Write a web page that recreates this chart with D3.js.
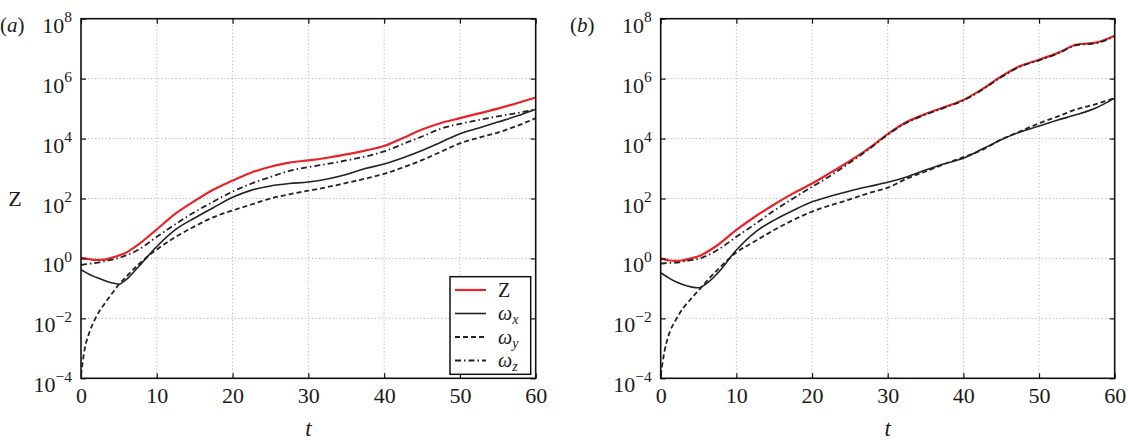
<!DOCTYPE html>
<html>
<head>
<meta charset="utf-8">
<script src="https://d3js.org/d3.v7.min.js"></script>
<style>
  body { margin: 0; background: #fff; }
</style>
</head>
<body>
<script>
let width = 1128, height = 441;
let serif = '"Liberation Serif", "Times New Roman", serif';

// time samples shared by every curve
let tVals = [0, 0.5, 1, 2, 3, 4, 5, 6, 7.5, 10, 12.5, 15, 17.5, 20, 22.5, 25, 27.5, 30,
             32.5, 35, 37.5, 40, 42.5, 45, 47.5, 50, 52.5, 55, 57.5, 60];

// panel (a): log10 of each quantity
let zA  = [0.02, 0.0, -0.02, -0.05, -0.04, 0.02, 0.1, 0.2, 0.45, 0.97, 1.5, 1.92, 2.3, 2.6, 2.87, 3.06, 3.2, 3.27,
           3.36, 3.47, 3.6, 3.75, 4.02, 4.3, 4.52, 4.68, 4.84, 5.0, 5.18, 5.37];
let wxA = [-0.38, -0.45, -0.52, -0.63, -0.73, -0.81, -0.86, -0.7, -0.3, 0.4, 0.97, 1.35, 1.7, 2.04, 2.28, 2.42, 2.5, 2.55,
           2.65, 2.8, 3.0, 3.15, 3.36, 3.6, 3.88, 4.16, 4.35, 4.55, 4.75, 4.98];
let wyA = [-3.9, -3.0, -2.55, -1.95, -1.55, -1.2, -0.87, -0.6, -0.22, 0.3, 0.72, 1.07, 1.38, 1.6, 1.8, 2.0, 2.14, 2.26,
           2.38, 2.52, 2.66, 2.82, 3.04, 3.28, 3.56, 3.84, 4.03, 4.2, 4.42, 4.68];
let wzA = [-0.22, -0.2, -0.18, -0.15, -0.1, -0.05, 0.02, 0.1, 0.28, 0.72, 1.15, 1.55, 1.9, 2.23, 2.5, 2.72, 2.92, 3.05,
           3.15, 3.27, 3.4, 3.57, 3.82, 4.07, 4.33, 4.49, 4.62, 4.74, 4.85, 4.97];

// panel (b)
let zB  = [0.0, -0.03, -0.06, -0.08, -0.06, 0.0, 0.07, 0.2, 0.44, 0.95, 1.4, 1.8, 2.17, 2.5, 2.87, 3.25, 3.67, 4.15,
           4.55, 4.82, 5.05, 5.29, 5.65, 6.07, 6.42, 6.63, 6.86, 7.14, 7.2, 7.43];
let wxB = [-0.48, -0.56, -0.64, -0.78, -0.88, -0.95, -0.98, -0.85, -0.5, 0.28, 0.88, 1.28, 1.6, 1.89, 2.08, 2.25, 2.4, 2.54,
           2.72, 2.95, 3.16, 3.34, 3.65, 3.96, 4.22, 4.42, 4.62, 4.8, 5.02, 5.35];
let wyB = [-3.9, -3.1, -2.6, -2.05, -1.65, -1.35, -1.07, -0.78, -0.38, 0.2, 0.58, 0.95, 1.28, 1.56, 1.78, 1.97, 2.18, 2.36,
           2.66, 2.9, 3.15, 3.38, 3.62, 3.97, 4.24, 4.51, 4.74, 4.98, 5.15, 5.35];
let wzB = [-0.17, -0.16, -0.15, -0.14, -0.1, -0.06, -0.01, 0.08, 0.28, 0.72, 1.15, 1.6, 2.0, 2.39, 2.77, 3.2, 3.64, 4.13,
           4.53, 4.8, 5.03, 5.27, 5.63, 6.05, 6.4, 6.61, 6.84, 7.12, 7.18, 7.41];

let xTicks = [0, 10, 20, 30, 40, 50, 60];
let yExps = [-4, -2, 0, 2, 4, 6, 8];
let seriesNames = ["Z", "x", "y", "z"];

let styles = {
    "Z": {color: "#e8232a", width: 2.2, dash: null},
    "x": {color: "#222", width: 1.6, dash: null},
    "y": {color: "#222", width: 1.8, dash: "5,3"},
    "z": {color: "#222", width: 1.8, dash: "6,3,1.5,3"}
};

let svg = d3.select("body").append("svg")
    .attr("width", width)
    .attr("height", height);

function drawPanel(left, right, label, labelX, data, withLegend, id) {
    let top = 18.7, bottom = 378.3;

    let x = d3.scaleLinear().domain([0, 60]).range([left, right]);
    let y = d3.scaleLog().domain([1e-4, 1e8]).range([bottom, top]);

    let g = svg.append("g");

    g.append("clipPath").attr("id", "clip" + id)
        .append("rect")
        .attr("x", left).attr("y", top)
        .attr("width", right - left).attr("height", bottom - top);

    // dotted grid
    g.selectAll(".vgrid")
        .data(xTicks.slice(1, -1))
        .join("line")
            .attr("x1", d => x(d)).attr("x2", d => x(d))
            .attr("y1", top).attr("y2", bottom)
            .style("stroke", "#aaa").style("stroke-width", 1)
            .style("stroke-dasharray", "1,2.5");
    g.selectAll(".hgrid")
        .data(yExps.slice(1, -1))
        .join("line")
            .attr("x1", left).attr("x2", right)
            .attr("y1", d => y(Math.pow(10, d))).attr("y2", d => y(Math.pow(10, d)))
            .style("stroke", "#aaa").style("stroke-width", 1)
            .style("stroke-dasharray", "1,2.5");

    // curves
    let line = d3.line()
        .x((d, i) => x(tVals[i]))
        .y(d => y(Math.pow(10, d)))
        .curve(d3.curveMonotoneX);

    let curves = g.append("g").attr("clip-path", "url(#clip" + id + ")");
    seriesNames.forEach(name => {
        let s = styles[name];
        curves.append("path")
            .attr("d", line(data[name]))
            .style("fill", "none")
            .style("stroke", s.color)
            .style("stroke-width", s.width)
            .style("stroke-dasharray", s.dash);
    });

    // inward ticks on all four sides
    let yVals = yExps.map(e => Math.pow(10, e));
    let axes = [
        g.append("g").attr("transform", `translate(0,${bottom})`).call(d3.axisBottom(x).tickValues(xTicks).tickSize(-5).tickPadding(9).tickFormat(d3.format("d"))),
        g.append("g").attr("transform", `translate(0,${top})`).call(d3.axisTop(x).tickValues(xTicks).tickSize(-5).tickFormat("")),
        g.append("g").attr("transform", `translate(${left},0)`).call(d3.axisLeft(y).tickValues(yVals).tickSize(-5).tickFormat("")),
        g.append("g").attr("transform", `translate(${right},0)`).call(d3.axisRight(y).tickValues(yVals).tickSize(-5).tickFormat(""))
    ];
    axes.forEach(a => {
        a.select(".domain").remove();
        a.selectAll("line").style("stroke", "#111").style("stroke-width", 1.2);
        a.selectAll("text")
            .style("font-size", "22px");
    });

    // y tick labels 10^n
    let yl = g.selectAll(".ylab")
        .data(yExps)
        .join("text")
            .attr("x", left - 9)
            .attr("y", d => y(Math.pow(10, d)) + 14)
            .attr("text-anchor", "end")
            .style("font-size", "22px");
    yl.append("tspan").text("10");
    yl.append("tspan")
        .attr("dy", -10.5)
        .style("font-size", "15.5px")
        .text(d => d < 0 ? "\u2212" + (-d) : d);

    // frame
    g.append("rect")
        .attr("x", left).attr("y", top)
        .attr("width", right - left).attr("height", bottom - top)
        .style("fill", "none").style("stroke", "#111").style("stroke-width", 1.6);

    // axis title t
    g.append("text")
        .attr("x", x(30)).attr("y", 436)
        .attr("text-anchor", "middle")
        .style("font-size", "23px").style("font-style", "italic")
        .text("t");

    // panel label
    let pl = g.append("text")
        .attr("x", labelX).attr("y", 32)
        .attr("text-anchor", "start")
        .style("font-size", "21px");
    pl.append("tspan").text("(");
    pl.append("tspan").style("font-style", "italic").text(label);
    pl.append("tspan").text(")");

    if (withLegend) {
        let lx = 450, ly = 276.7, lw = 80.7, lh = 97.6;
        let lg = g.append("g");
        lg.append("rect")
            .attr("x", lx).attr("y", ly).attr("width", lw).attr("height", lh)
            .style("fill", "#fff").style("stroke", "#111").style("stroke-width", 1.5);
        let rows = lg.selectAll(".row")
            .data(seriesNames)
            .join("g")
                .attr("transform", (d, i) => `translate(0,${290 + i * 23.5})`);
        rows.append("line")
            .attr("x1", 455).attr("x2", 486)
            .style("stroke", d => styles[d].color)
            .style("stroke-width", d => styles[d].width)
            .style("stroke-dasharray", d => styles[d].dash);
        let lt = rows.append("text")
            .attr("x", 498).attr("y", 6.5)
            .style("font-size", "20px");
        lt.each(function(d) {
            let t = d3.select(this);
            if (d === "Z") {
                t.text("Z");
            } else {
                t.append("tspan").style("font-style", "italic").text("\u03c9");
                t.append("tspan").attr("dy", 4).style("font-size", "14px").style("font-style", "italic").text(d);
            }
        });
    }
}

// Z axis title on the left panel
svg.append("text")
    .attr("x", 15).attr("y", 206)
    .attr("text-anchor", "middle")
    .style("font-size", "22px")
    .text("Z");

drawPanel(81, 535.7, "a", 0, {"Z": zA, "x": wxA, "y": wyA, "z": wzA}, true, "a");
drawPanel(660.7, 1114.7, "b", 570, {"Z": zB, "x": wxB, "y": wyB, "z": wzB}, false, "b");

// serif everywhere, like the original figure
svg.selectAll("text")
    .style("font-family", serif)
    .style("fill", "#1a1a1a");
svg.selectAll("g").attr("font-family", null);
</script>
</body>
</html>
